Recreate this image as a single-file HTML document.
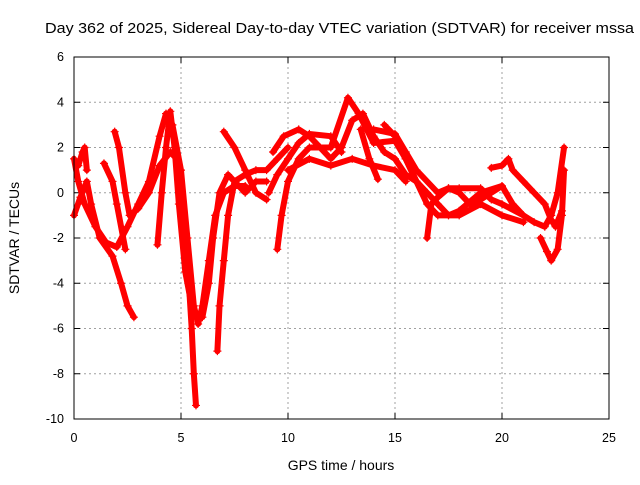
<!DOCTYPE html>
<html><head><meta charset="utf-8"><style>
body{margin:0;background:#fff;}
svg text{font-family:"Liberation Sans",sans-serif;font-size:12.5px;fill:#000;}
</style></head><body>
<svg id="chart" width="640" height="480" xmlns="http://www.w3.org/2000/svg">
<rect width="640" height="480" fill="#fff"/>
<text x="339.5" y="33" text-anchor="middle" style="font-size:15px" textLength="589" lengthAdjust="spacingAndGlyphs">Day 362 of 2025, Sidereal Day-to-day VTEC variation (SDTVAR) for receiver mssa</text>
<text x="341" y="470" text-anchor="middle" style="font-size:14px">GPS time / hours</text>
<text transform="translate(19,238) rotate(-90)" text-anchor="middle" style="font-size:14px">SDTVAR / TECUs</text>
<g id="grid"></g><g id="axes"></g><g id="marks"></g>
<rect x="74" y="57" width="535" height="362" fill="none" stroke="#000" stroke-width="1"/>
</svg>
<script>
const xTicks=[0,5,10,15,20,25];
const yTicks=[-10,-8,-6,-4,-2,0,2,4,6];
const track1=[[0,1.5],[0.2,0.5],[0.5,-0.5],[1,-1.5],[1.5,-2.2],[2,-2.4],[2.5,-1.5],[3,-0.5],[3.5,0.5],[4,2.5],[4.3,3.5],[4.6,3],[5,1],[5.3,-2],[5.6,-5],[5.8,-5.8],[6,-5],[6.3,-3],[6.6,-1],[7,0],[7.5,0.3],[8,0.3]];
const track2=[[0,-1],[0.3,-0.2],[0.6,0.5],[0.8,-0.5],[1.2,-2],[1.8,-2.8],[2.2,-4],[2.5,-5],[2.8,-5.5]];
const track3=[[0.2,1.2],[0.4,1.8],[0.5,2],[0.6,1]];
const track4=[[1.9,2.7],[2.1,2],[2.4,0],[2.6,-1],[3,-0.7],[3.5,0],[4,1.2],[4.5,1.8],[4.8,1.5]];
const track5=[[5,-0.5],[5.3,-3],[5.5,-6],[5.6,-8],[5.7,-9.4]];
const track6=[[6.7,-7],[6.8,-5],[7,-3],[7.2,-1],[7.5,0.5],[8,0.8],[8.5,1],[9,1],[9.5,1.5],[10,2]];
const track7=[[7,2.7],[7.5,2],[8,1],[8.5,0],[9,-0.3]];
const track8=[[9.3,1.8],[9.8,2.5],[10.5,2.8],[11,2.5],[11.5,2],[12,1.5],[12.5,2],[13,3.2],[13.5,3.5],[14,2.5],[14.5,1.8],[15,1.5],[15.5,0.8],[16,0.5]];
const track9=[[9.5,-2.5],[9.7,-1],[10,0.5],[10.5,1.5],[11,2],[12,2],[12.8,4.2],[13.3,3.5],[14,2.2],[15,2.3],[15.5,1.5],[16,0.5],[16.5,-0.5],[17,-1],[18,-1],[19,-0.5],[20,-1],[21,-1.3]];
const track10=[[10,1],[11,1.5],[12,1.2],[13,1.5],[14,1.2],[15,1],[15.5,0.5]];
const track11=[[14.5,3],[15,2.5],[15.5,1.5],[16,0.5],[16.5,0],[17,-0.5],[17.5,-1],[18,-0.8],[19,0],[20,0.3],[20.5,-0.5],[21,-1],[21.5,-1.3],[22,-1.5],[22.3,-1],[22.6,0],[22.9,2]];
const track12=[[16.5,-2],[16.7,-0.5],[17,-0.2],[17.5,0.2],[18,0],[18.5,-0.5],[19,-0.3],[19.5,0],[20,0.3]];
const track13=[[19.5,1.1],[20,1.2],[20.3,1.5],[20.5,1],[21,0.5],[21.5,0],[22,-0.5],[22.3,-1.2],[22.5,-1.5],[22.8,-0.8]];
const track14=[[21.8,-2],[22.1,-2.6],[22.3,-3],[22.6,-2.5],[22.8,-1],[22.9,1]];
const track15=[[14,2.8],[15,2.6],[15.5,1.8],[16,1],[17,0],[17.5,0.2],[18,0.2],[19,0.2],[19.5,-0.3],[20,-0.5],[21,-1]];
const track16=[[1.4,1.3],[1.8,0.5],[2,-0.5],[2.4,-2.5]];
const track17=[[3.9,-2.3],[4.1,0],[4.3,2],[4.5,3.6],[4.7,2],[4.9,-0.5],[5.2,-3.5],[5.5,-5]];
const track18=[[6,-5.5],[6.3,-4],[6.5,-2],[6.8,0],[7.2,0.8],[8,0],[8.5,0.5],[9,0.5]];
const track19=[[13.4,2.8],[13.8,1.5],[14.2,0.6]];
const track20=[[9.1,0],[9.5,0.8],[10,1.5],[10.5,2.2],[11,2.6],[12,2.5],[12.5,1.8]];
const tracks=[track1,track2,track3,track4,track5,track6,track7,track8,track9,track10,track11,track12,track13,track14,track15,track16,track17,track18,track19,track20];

const NS="http://www.w3.org/2000/svg";
const X0=74,X1=609,Y0=419,Y1=57;
function xs(v){return X0+(v-0)/(25-0)*(X1-X0);}
function ys(v){return Y0-(v-(-10))/(6-(-10))*(Y0-Y1);}
function mk(tag,attrs,parent){const e=document.createElementNS(NS,tag);for(const k in attrs)e.setAttribute(k,attrs[k]);parent.appendChild(e);return e;}
const grid=document.getElementById('grid'),axes=document.getElementById('axes'),marks=document.getElementById('marks');
xTicks.forEach(t=>{
  const x=xs(t);
  if(t>0&&t<25){const g=mk('line',{x1:x,x2:x,y1:Y0,y2:Y1,stroke:'#a0a0a0','stroke-dasharray':'2,3'},grid);
  
  }
  mk('line',{x1:x,x2:x,y1:Y0,y2:Y0-6,stroke:'#000'},axes);
  mk('line',{x1:x,x2:x,y1:Y1,y2:Y1+6,stroke:'#000'},axes);
  const l=mk('text',{x:x,y:Y0+23,'text-anchor':'middle'},axes);l.textContent=t;
  
  
});
yTicks.forEach(t=>{
  const y=ys(t);
  if(t>-10&&t<6){const g=mk('line',{x1:X0,x2:X1,y1:y,y2:y,stroke:'#a0a0a0','stroke-dasharray':'2,3'},grid);
  
  }
  mk('line',{x1:X0,x2:X0+6,y1:y,y2:y,stroke:'#000'},axes);
  mk('line',{x1:X1,x2:X1-6,y1:y,y2:y,stroke:'#000'},axes);
  const l=mk('text',{x:X0-10,y:y+4,'text-anchor':'end'},axes);l.textContent=t;
  
  
});
tracks.forEach((tr,i)=>{
  const pts=tr.map(p=>xs(p[0])+','+ys(p[1])).join(' ');
  const pl=mk('polyline',{points:pts,fill:'none',stroke:'#f00','stroke-width':6,'stroke-linejoin':'round','stroke-linecap':'round'},marks);
  
  
  tr.forEach(p=>{
    const x=xs(p[0]),y=ys(p[1]);
    const m=mk('path',{d:`M${x-4},${y}h8M${x},${y-4}v8`,stroke:'#f00','stroke-width':1.2},marks);
    
    
  });
});
</script>
</body></html>
